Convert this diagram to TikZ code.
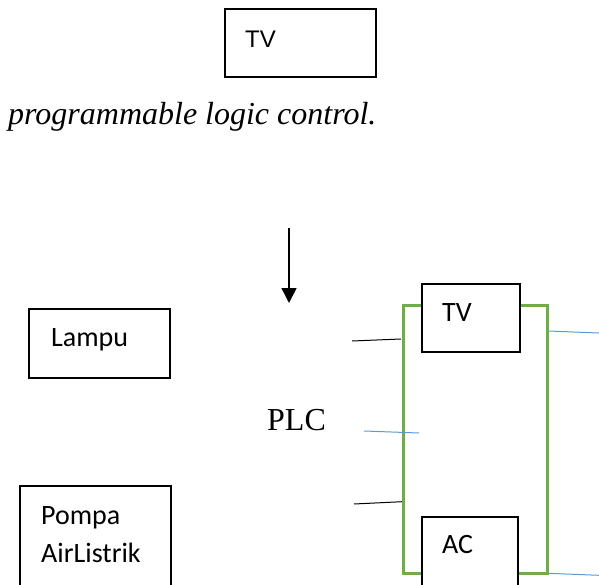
\documentclass[tikz,border=0pt]{standalone}
\usepackage{fontspec}
\setmainfont{Liberation Serif}
\newfontfamily\calfont{Carlito}
\newfontfamily\arifont{Liberation Sans}
\usetikzlibrary{arrows.meta}
\definecolor{plcgreen}{HTML}{70AD47}
\definecolor{wireblue}{HTML}{5B9BD5}
\tikzset{
  boxnode/.style={draw=black, line width=2pt, fill=white, rectangle, inner sep=0pt, anchor=north west},
  txt/.style={inner sep=0pt, anchor=base west},
  wireblack/.style={draw=black, line width=1pt},
  wirebl/.style={draw=wireblue, line width=1pt},
}
\begin{document}
\begin{tikzpicture}[x=1pt,y=-1pt]
\useasboundingbox (0,0) rectangle (599,585);
\clip (0,0) rectangle (599,585);
% top TV box
\node[boxnode, minimum width=151pt, minimum height=68pt] (tvtop) at (224,8) {};
\node[txt, font=\arifont\fontsize{24}{28}\selectfont] (tvtoptxt) at (245,47.5) {TV};
% caption
\node[txt, font=\itshape\fontsize{32}{38}\selectfont] (cap) at (8,125) {programmable logic control.};
% arrow
\coordinate (arrA) at (289,228);
\coordinate (arrB) at (289,303);
\draw[line width=1.5pt, -{Triangle[length=15pt,width=15pt]}] (arrA) -- (arrB);
% left boxes
\node[boxnode, minimum width=141pt, minimum height=69pt] (lampu) at (28,308) {};
\node[txt, font=\calfont\fontsize{28}{38}\selectfont] (lamputxt) at (51,346) {Lampu};
\node[boxnode, minimum width=151pt, minimum height=110pt] (pompa) at (19,485) {};
\node[txt, font=\calfont\fontsize{28}{38}\selectfont] (pompatxt) at (41,524) {Pompa};
\node[txt, font=\calfont\fontsize{28}{38}\selectfont] (airtxt) at (41,562) {AirListrik};
% PLC
\node[txt, font=\fontsize{32}{38}\selectfont] (plc) at (267,430) {PLC};
% green frame
\node[draw=plcgreen, line width=3pt, rectangle, inner sep=0pt, anchor=north west, minimum width=144pt, minimum height=268pt] (frame) at (402,304) {};
% right boxes
\node[boxnode, minimum width=98pt, minimum height=68pt] (tvr) at (421,283) {};
\node[txt, font=\calfont\fontsize{28}{38}\selectfont] (tvrtxt) at (442,321) {TV};
\node[boxnode, minimum width=96pt, minimum height=80pt] (ac) at (421,516) {};
\node[txt, font=\calfont\fontsize{28}{38}\selectfont] (actxt) at (442,553.5) {AC};
% wires
\coordinate (w1a) at (352,341); \coordinate (w1b) at (401,339);
\coordinate (w2a) at (354,504); \coordinate (w2b) at (402,501.7);
\coordinate (w3a) at (364,431); \coordinate (w3b) at (419,433);
\coordinate (w4a) at (548,331); \coordinate (w4b) at (599,333);
\coordinate (w5a) at (548,573.3); \coordinate (w5b) at (599,575.3);
\draw[wireblack] (w1a) -- (w1b);
\draw[wireblack] (w2a) -- (w2b);
\draw[wirebl] (w3a) -- (w3b);
\draw[wirebl] (w4a) -- (w4b);
\draw[wirebl] (w5a) -- (w5b);
\end{tikzpicture}
\end{document}
